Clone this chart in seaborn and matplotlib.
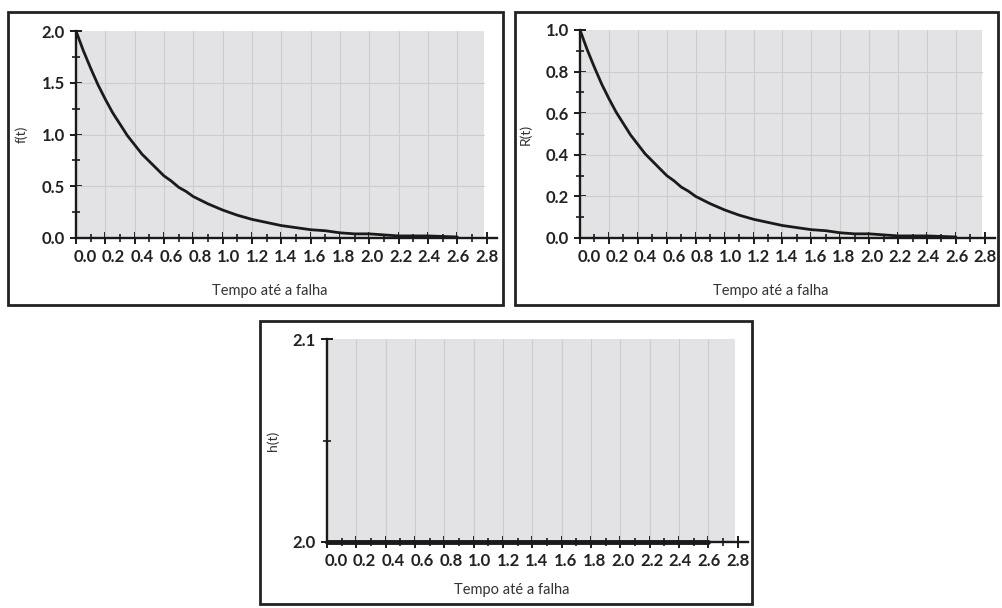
import numpy as np
import pandas as pd
import matplotlib.pyplot as plt
import matplotlib.transforms as mtransforms
import seaborn as sns
from matplotlib.patches import Rectangle
from matplotlib.ticker import MultipleLocator

# values (exponential failure model)
t_vals = [0.0, 0.05, 0.1, 0.15, 0.2, 0.25, 0.3, 0.35, 0.4, 0.45, 0.5, 0.55, 0.6, 0.65,
          0.7, 0.75, 0.8, 0.9, 1.0, 1.1, 1.2, 1.3, 1.4, 1.5, 1.6, 1.7, 1.8, 1.9, 2.0,
          2.2, 2.4, 2.6]
f_vals = [2.0, 1.81, 1.64, 1.48, 1.34, 1.21, 1.10, 0.99, 0.90, 0.81, 0.74, 0.67, 0.60, 0.55,
          0.49, 0.45, 0.40, 0.33, 0.27, 0.22, 0.18, 0.15, 0.12, 0.10, 0.08, 0.07, 0.05, 0.04, 0.04,
          0.02, 0.02, 0.01]
r_vals = [1.0, 0.905, 0.82, 0.74, 0.67, 0.605, 0.55, 0.495, 0.45, 0.405, 0.37, 0.335, 0.30, 0.275,
          0.245, 0.225, 0.20, 0.165, 0.135, 0.11, 0.09, 0.075, 0.06, 0.05, 0.04, 0.035, 0.025, 0.02, 0.02,
          0.01, 0.01, 0.005]
h_t = [0.0, 2.6]
h_vals = [2.0, 2.0]

x_ticks = [0.0, 0.2, 0.4, 0.6, 0.8, 1.0, 1.2, 1.4, 1.6, 1.8, 2.0, 2.2, 2.4, 2.6, 2.8]
x_label = "Tempo até a falha"

sns.set_theme(style="white")
plt.rcParams['font.family'] = ['Lato', 'DejaVu Sans']

W, H = 1002, 608
fig = plt.figure(figsize=(W / 100, H / 100), dpi=100)
fig.patch.set_facecolor('white')


def frac(x0, y0, x1, y1):
    return [x0 / W, 1 - y1 / H, (x1 - x0) / W, (y1 - y0) / H]


# panel frames
for (x0, y0, x1, y1) in [(8, 12, 503, 305), (515, 12, 998, 305), (260, 321, 752, 604)]:
    fig.patches.append(Rectangle((x0 / W, 1 - y1 / H), (x1 - x0) / W, (y1 - y0) / H,
                                 transform=fig.transFigure, fill=False,
                                 edgecolor='#222222', linewidth=2.0))

GREY = '#e3e3e6'
GRID = '#cdcdd1'
XMAX = 2.87
GREY_END = 2.78


def style_axis(ax, ylim, ymajor, yminor, ylabel, hgrid):
    ax.set_xlim(0, XMAX)
    ax.set_ylim(*ylim)
    ax.set_facecolor('white')
    ax.axvspan(0, GREY_END, color=GREY, zorder=0, lw=0)
    for xv in x_ticks[1:]:
        if xv < GREY_END:
            ax.plot([xv, xv], ylim, color=GRID, lw=0.8, zorder=1)
    if hgrid:
        yv = ylim[0] + ymajor
        while yv < ylim[1] - 1e-9:
            ax.plot([0, GREY_END], [yv, yv], color=GRID, lw=0.8, zorder=1)
            yv += ymajor
    ax.set_xticks(x_ticks)
    ax.set_xticklabels([f"{v:.1f}" for v in x_ticks])
    ax.xaxis.set_minor_locator(MultipleLocator(0.1))
    ax.yaxis.set_major_locator(MultipleLocator(ymajor))
    ax.yaxis.set_minor_locator(MultipleLocator(yminor))
    ax.yaxis.set_major_formatter('{x:.1f}')
    for s in ['top', 'right']:
        ax.spines[s].set_visible(False)
    for s in ['left', 'bottom']:
        ax.spines[s].set_linewidth(1.7)
        ax.spines[s].set_color('#1a1a1a')
        ax.spines[s].set_zorder(4)
    ax.tick_params(which='major', direction='inout', length=8, width=1.4, color='#1a1a1a',
                   labelsize=12, labelcolor='#222222', pad=4)
    ax.tick_params(which='minor', direction='inout', length=6, width=1.2, color='#1a1a1a')
    ax.tick_params(axis='y', which='both', left=True)
    ax.tick_params(axis='x', which='both', bottom=True)
    labs = ax.get_xticklabels()
    n = len(labs) - 1
    for i, lab in enumerate(labs):
        dx = 9 * (1 - i / n) * 0.72
        lab.set_transform(lab.get_transform() +
                          mtransforms.ScaledTranslation(dx / 72, 0, fig.dpi_scale_trans))
    for lab in ax.get_xticklabels() + ax.get_yticklabels():
        lab.set_fontweight('bold')
    ax.set_xlabel(x_label, fontsize=10.5, color='#333333')
    ax.xaxis.set_label_coords(0.46, -0.22)
    ax.set_ylabel(ylabel, fontsize=10, color='#333333', labelpad=10)


# f(t)
ax1 = fig.add_axes(frac(76, 31, 497, 238))
sns.lineplot(x=t_vals, y=f_vals, ax=ax1, color='#1a1a1a', lw=2.0, zorder=3)
style_axis(ax1, (0, 2.0), 0.5, 0.25, 'f(t)', True)

# R(t)
ax2 = fig.add_axes(frac(580, 30, 995, 238))
sns.lineplot(x=t_vals, y=r_vals, ax=ax2, color='#1a1a1a', lw=2.0, zorder=3)
style_axis(ax2, (0, 1.0), 0.2, 0.1, 'R(t)', True)

# h(t)
ax3 = fig.add_axes(frac(327, 339, 748, 542))
sns.lineplot(x=h_t, y=h_vals, ax=ax3, color='#1a1a1a', lw=3.5, zorder=3, clip_on=False)
style_axis(ax3, (2.0, 2.1), 0.1, 0.05, 'h(t)', False)
ax3.xaxis.set_label_coords(0.44, -0.2)

fig.savefig('out.png', dpi=100)
